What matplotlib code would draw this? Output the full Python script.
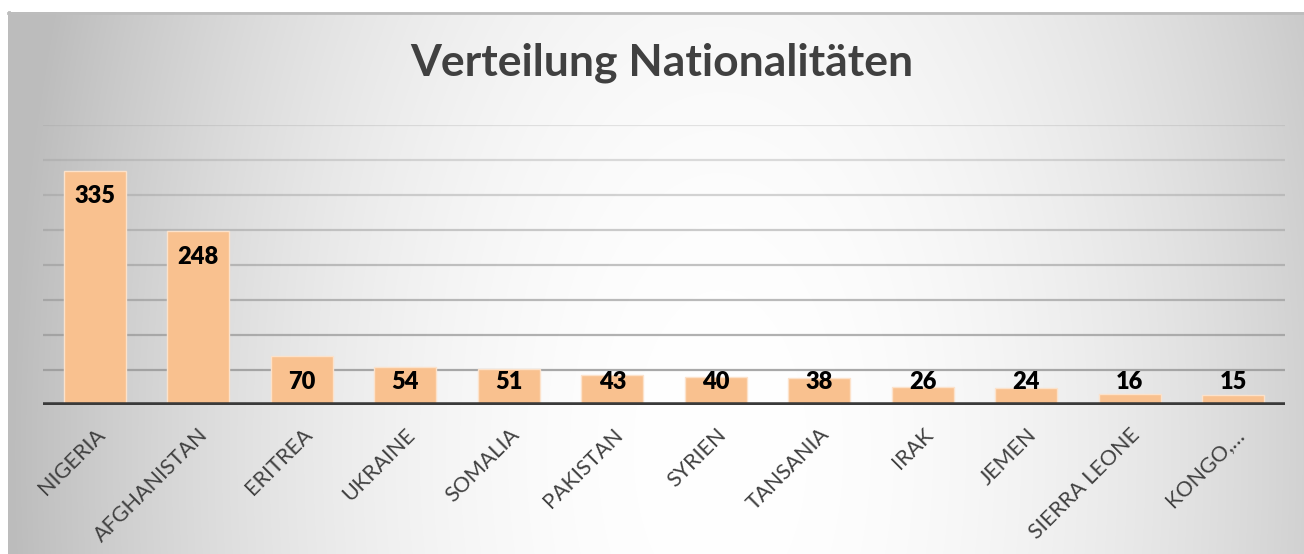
#!/usr/bin/env python3

import matplotlib
matplotlib.use("Agg")
import matplotlib.pyplot as plt
import numpy as np

# Daten aus dem Diagramm
nationalities = ["NIGERIA", "AFGHANISTAN", "ERITREA", "UKRAINE", "SOMALIA", "PAKISTAN",
                 "SYRIEN", "TANSANIA", "IRAK", "JEMEN", "SIERRA LEONE", "KONGO,…"]
counts = [335, 248, 70, 54, 51, 43, 40, 38, 26, 24, 16, 15]

plt.rcParams["font.family"] = ["Lato", "DejaVu Sans"]

W, H = 1304, 554
fig = plt.figure(figsize=(W / 100, H / 100), dpi=100)

# Hintergrund: radialer Grauverlauf im Rahmen
bg = fig.add_axes([0, 0, 1, 1], zorder=0)
xx, yy = np.meshgrid(np.arange(W), np.arange(H))
r = np.sqrt(((xx - 720) / 650.0) ** 2 + ((yy - 450) / 1200.0) ** 2)
val = np.clip(1 - 0.22 * r ** 2, 0.74, 1)
img = np.dstack([val, val, val])
img[:12, :, :] = 1.0
img[:, :8, :] = 1.0
bg.imshow(img, extent=(0, W, H, 0), aspect="auto", interpolation="bilinear")
bg.plot([8, W], [12.5, 12.5], color="#bdbdbd", lw=2)
bg.plot([8.5, 8.5], [12, H], color="#bdbdbd", lw=2)
bg.set_xlim(0, W)
bg.set_ylim(H, 0)
bg.axis("off")

ax = fig.add_axes([43 / W, 149 / H, 1242 / W, 280 / H], zorder=1)
ax.patch.set_alpha(0)

x = np.arange(len(nationalities))
ax.bar(x, counts, width=0.6, color="#F9C18F", edgecolor="#FCE2CB", linewidth=1, zorder=3)

ax.set_ylim(0, 400)
ax.set_xlim(-0.5, len(nationalities) - 0.5)

# Gitternetzlinien, oben heller
for i, g in enumerate(range(50, 401, 50)):
    alpha = 0.85 - 0.6 * i / 7
    ax.axhline(g, color="#9a9a9a", lw=1.6, alpha=alpha, zorder=1)
ax.axhline(0, color="#3a3a3a", lw=4, zorder=4)

for s in ax.spines.values():
    s.set_visible(False)
ax.set_yticks([])
ax.set_xticks(x)
ax.set_xticklabels(nationalities, rotation=45, ha="right", rotation_mode="anchor",
                   fontsize=15.5, color="#404040")
ax.tick_params(axis="x", length=0, pad=14)

for xi, v in zip(x, counts):
    ax.text(xi, max(v - 37, 33), str(v), ha="center", va="center",
            fontsize=17, fontweight="heavy", color="black", zorder=5)

fig.text(662 / W, 1 - 63 / H, "Verteilung Nationalitäten", ha="center", va="center",
         fontsize=32, fontweight="bold", color="#404040")

fig.savefig("out.png", dpi=100)
